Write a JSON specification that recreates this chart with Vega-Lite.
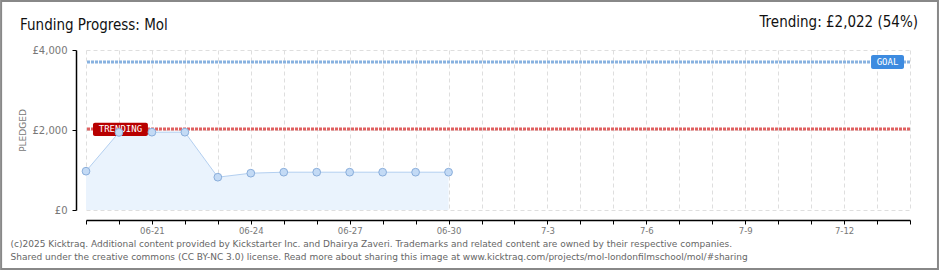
{
  "$schema": "https://vega.github.io/schema/vega-lite/v6.json",
  "width": 824,
  "height": 160,
  "autosize": "none",
  "padding": {"left": 86, "top": 50, "right": 30, "bottom": 60},
  "background": "white",
  "config": {"view": {"stroke": null}, "font": "DejaVu Sans", "axisY": {"labelOverlap": false}},
  "datasets": {
    "pledged": [
      {"date": "2025-06-19", "pledged": 970},
      {"date": "2025-06-20", "pledged": 1940},
      {"date": "2025-06-21", "pledged": 1945},
      {"date": "2025-06-22", "pledged": 1945},
      {"date": "2025-06-23", "pledged": 820},
      {"date": "2025-06-24", "pledged": 920},
      {"date": "2025-06-25", "pledged": 945},
      {"date": "2025-06-26", "pledged": 945},
      {"date": "2025-06-27", "pledged": 945},
      {"date": "2025-06-28", "pledged": 945},
      {"date": "2025-06-29", "pledged": 945},
      {"date": "2025-06-30", "pledged": 945}
    ],
    "one": [{"note": "annotation"}]
  },
  "data": {"name": "pledged"},
  "layer": [
    {
      "encoding": {
        "x": {
          "field": "date",
          "type": "temporal",
          "scale": {
            "type": "utc",
            "nice": false,
            "domain": [
              {"year": 2025, "month": 6, "date": 19, "utc": true},
              {"year": 2025, "month": 7, "date": 14, "utc": true}
            ]
          },
          "axis": {
            "offset": 10,
            "tickCount": {"interval": "day", "step": 1},
            "labelExpr": "round((datum.value - utc(2025,5,21))/86400000) % 3 == 0 ? (utcmonth(datum.value) == 5 ? utcFormat(datum.value, '%m-%d') : utcFormat(datum.value, '%-m-%-d')) : ''",
            "labelColor": "#777",
            "labelFontSize": 8.5,
            "labelPadding": 2,
            "labelFlush": false,
            "labelOverlap": false,
            "domainColor": "#000",
            "domainWidth": 1.5,
            "tickColor": "#000",
            "tickSize": 4,
            "grid": true,
            "gridColor": "#dedede",
            "gridDash": [4, 3],
            "title": [
              "(c)2025 Kicktraq. Additional content provided by Kickstarter Inc. and Dhairya Zaveri. Trademarks and related content are owned by their respective companies.",
              "Shared under the creative commons (CC BY-NC 3.0) license. Read more about sharing this image at www.kicktraq.com/projects/mol-londonfilmschool/mol/#sharing"
            ],
            "titleAnchor": "start",
            "titleAlign": "left",
            "titleX": -76,
            "titleY": 26,
            "titleBaseline": "alphabetic",
            "titleLineHeight": 13,
            "titleFontSize": 9,
            "titleFontWeight": "normal",
            "titleColor": "#666"
          }
        },
        "y": {
          "field": "pledged",
          "type": "quantitative",
          "scale": {"domain": [0, 4000], "nice": false},
          "axis": {
            "offset": 10,
            "values": [0, 500, 1000, 1500, 2000, 2500, 3000, 3500, 4000],
            "labelExpr": "'£' + format(datum.value, ',')",
            "labelColor": "#777",
            "labelFontSize": 10,
            "labelPadding": 5,
            "labelOverlap": false,
            "labelFlush": false,
            "domainColor": "#000",
            "domainWidth": 1.5,
            "tickSize": 4,
            "tickColor": "#000",
            "grid": true,
            "gridColor": "#dedede",
            "gridDash": [4, 3],
            "title": "PLEDGED",
            "titleColor": "#777",
            "titleFontSize": 9,
            "titleFontWeight": "normal",
            "titleAngle": -90,
            "titleX": -54,
            "titleY": 80,
            "titleAlign": "center",
            "titleBaseline": "middle"
          }
        }
      },
      "layer": [
        {"mark": {"type": "area", "color": "#eaf3fd", "opacity": 1}},
        {"mark": {"type": "line", "color": "#b3cff0", "strokeWidth": 1}}
      ]
    },
    {
      "data": {"name": "one"},
      "mark": {"type": "rect", "fill": null, "stroke": "#888", "strokeWidth": 2, "clip": false},
      "encoding": {
        "x": {"datum": {"year": 2025, "month": 6, "date": 16, "hours": 10, "minutes": 11, "utc": true}, "type": "temporal"},
        "x2": {"datum": {"year": 2025, "month": 7, "date": 14, "hours": 20, "minutes": 22, "utc": true}},
        "y": {"datum": 5225, "type": "quantitative"},
        "y2": {"datum": -1475}
      }
    },
    {
      "data": {"name": "one"},
      "mark": {"type": "rule", "color": "#88b2e0", "strokeWidth": 3, "strokeDash": [3, 1]},
      "encoding": {"y": {"datum": 3700, "type": "quantitative"}}
    },
    {
      "data": {"name": "one"},
      "mark": {"type": "rule", "color": "#e06060", "strokeWidth": 3, "strokeDash": [3, 1]},
      "encoding": {"y": {"datum": 2022, "type": "quantitative"}}
    },
    {
      "data": {"name": "one"},
      "mark": {"type": "rect", "color": "#b80000", "cornerRadius": 2},
      "encoding": {
        "x": {"datum": {"year": 2025, "month": 6, "date": 19, "hours": 5, "minutes": 5, "utc": true}, "type": "temporal"},
        "x2": {"datum": {"year": 2025, "month": 6, "date": 20, "hours": 21, "minutes": 5, "utc": true}},
        "y": {"datum": 2183, "type": "quantitative"},
        "y2": {"datum": 1850}
      }
    },
    {
      "data": {"name": "one"},
      "mark": {"type": "text", "text": "TRENDING", "color": "white", "fontSize": 9, "font": "DejaVu Sans Mono", "align": "center", "baseline": "middle"},
      "encoding": {
        "x": {"datum": {"year": 2025, "month": 6, "date": 20, "hours": 1, "minutes": 5, "utc": true}, "type": "temporal"},
        "y": {"datum": 2022, "type": "quantitative"}
      }
    },
    {
      "data": {"name": "one"},
      "mark": {"type": "rect", "color": "#3d8be0", "cornerRadius": 2},
      "encoding": {
        "x": {"datum": {"year": 2025, "month": 7, "date": 12, "hours": 19, "minutes": 38, "utc": true}, "type": "temporal"},
        "x2": {"datum": {"year": 2025, "month": 7, "date": 13, "hours": 19, "minutes": 38, "utc": true}},
        "y": {"datum": 3875, "type": "quantitative"},
        "y2": {"datum": 3525}
      }
    },
    {
      "data": {"name": "one"},
      "mark": {"type": "text", "text": "GOAL", "color": "white", "fontSize": 9, "font": "DejaVu Sans Mono", "align": "center", "baseline": "middle"},
      "encoding": {
        "x": {"datum": {"year": 2025, "month": 7, "date": 13, "hours": 7, "minutes": 38, "utc": true}, "type": "temporal"},
        "y": {"datum": 3700, "type": "quantitative"}
      }
    },
    {
      "data": {"name": "one"},
      "mark": {"type": "text", "text": "Funding Progress: Mol", "color": "#111", "fontSize": 15, "font": "Liberation Sans Narrow, DejaVu Sans Condensed, DejaVu Sans", "align": "left", "baseline": "alphabetic", "clip": false},
      "encoding": {
        "x": {"datum": {"year": 2025, "month": 6, "date": 17, "utc": true}, "type": "temporal"},
        "y": {"datum": 4500, "type": "quantitative"}
      }
    },
    {
      "data": {"name": "one"},
      "mark": {"type": "text", "text": "Trending: £2,022 (54%)", "color": "#111", "fontSize": 15, "font": "Liberation Sans Narrow, DejaVu Sans Condensed, DejaVu Sans", "align": "right", "baseline": "alphabetic", "clip": false},
      "encoding": {
        "x": {"datum": {"year": 2025, "month": 7, "date": 14, "hours": 5, "minutes": 49, "utc": true}, "type": "temporal"},
        "y": {"datum": 4575, "type": "quantitative"}
      }
    },
    {
      "mark": {"type": "point", "filled": true, "size": 60, "fill": "#c3daf5", "stroke": "#8aaedb", "strokeWidth": 1, "opacity": 1},
      "encoding": {
        "x": {"field": "date", "type": "temporal"},
        "y": {
          "field": "pledged",
          "type": "quantitative",
          "axis": {
            "offset": 10,
            "values": [0, 500, 1000, 1500, 2000, 2500, 3000, 3500, 4000],
            "labelExpr": "'£' + format(datum.value, ',')",
            "labelColor": "#777",
            "labelFontSize": 10,
            "labelPadding": 5,
            "labelOverlap": false,
            "labelFlush": false,
            "domainColor": "#000",
            "domainWidth": 1.5,
            "tickSize": 4,
            "tickColor": "#000",
            "grid": true,
            "gridColor": "#dedede",
            "gridDash": [4, 3],
            "title": "PLEDGED",
            "titleColor": "#777",
            "titleFontSize": 9,
            "titleFontWeight": "normal",
            "titleAngle": -90,
            "titleX": -54,
            "titleY": 80,
            "titleAlign": "center",
            "titleBaseline": "middle"
          }
        }
      }
    }
  ]
}
